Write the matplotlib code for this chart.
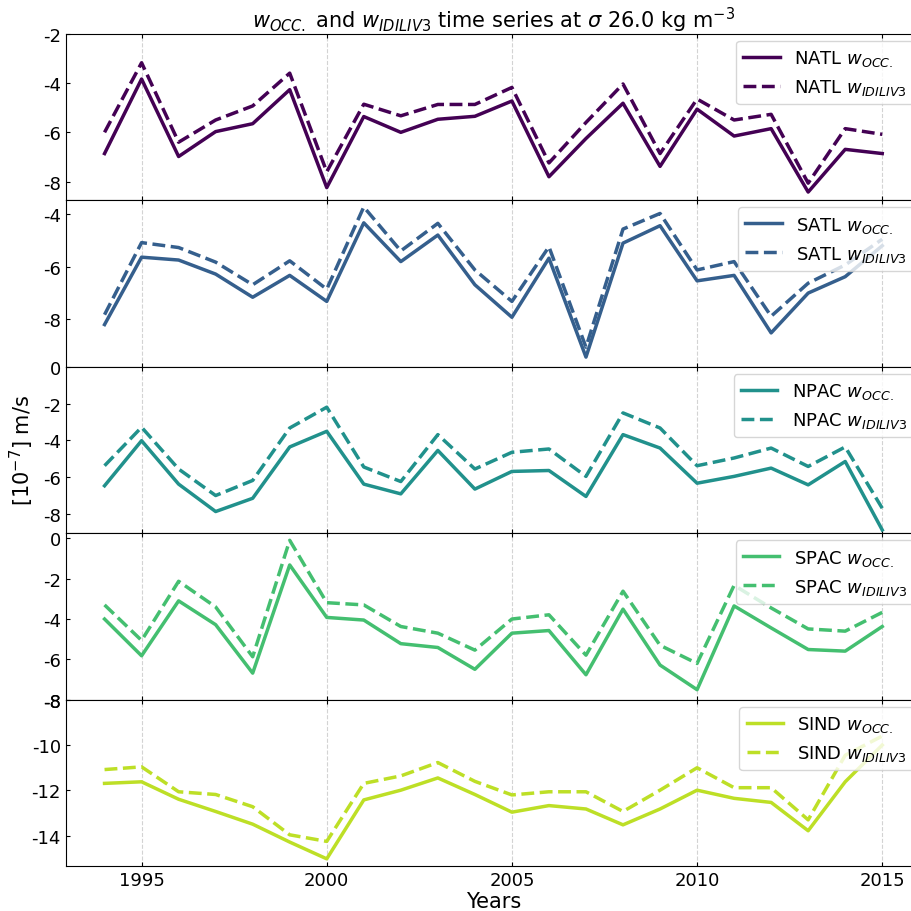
"""
w_OCC. vs w_IDILIV3 time series at sigma 26.0, five basins stacked.
"""

import matplotlib
matplotlib.use('Agg')

import matplotlib.pyplot as plt
import numpy as np

years = list(range(1994, 2016))

basins = ["NATL", "SATL", "NPAC", "SPAC", "SIND"]

natl_occ = [-6.86, -3.84, -6.98, -5.97, -5.65, -4.27, -8.24, -5.36, -6.0, -5.47, -5.35,
            -4.73, -7.8, -6.25, -4.82, -7.38, -5.06, -6.15, -5.85, -8.42, -6.69, -6.86]
natl_idl = [-6.0, -3.18, -6.4, -5.5, -4.93, -3.6, -7.6, -4.86, -5.33, -4.87, -4.87,
            -4.18, -7.24, -5.6, -4.04, -6.86, -4.65, -5.5, -5.27, -8.06, -5.85, -6.08]

satl_occ = [-8.23, -5.64, -5.75, -6.29, -7.18, -6.34, -7.34, -4.32, -5.81, -4.79, -6.7,
            -7.95, -5.68, -9.48, -5.1, -4.43, -6.55, -6.34, -8.55, -7.02, -6.39, -5.2]
satl_idl = [-7.85, -5.08, -5.27, -5.83, -6.7, -5.78, -6.87, -3.71, -5.4, -4.34, -6.13,
            -7.34, -5.24, -9.1, -4.56, -3.96, -6.13, -5.81, -7.91, -6.64, -5.94, -4.95]

npac_occ = [-6.47, -4.02, -6.38, -7.87, -7.15, -4.36, -3.51, -6.38, -6.91, -4.55, -6.65,
            -5.69, -5.64, -7.05, -3.69, -4.42, -6.33, -5.96, -5.51, -6.42, -5.15, -8.87]
npac_idl = [-5.38, -3.29, -5.56, -7.0, -6.18, -3.33, -2.2, -5.45, -6.24, -3.69, -5.56,
            -4.65, -4.47, -5.96, -2.51, -3.33, -5.38, -4.96, -4.42, -5.42, -4.36, -7.69]

spac_occ = [-4.0, -5.82, -3.1, -4.28, -6.68, -1.32, -3.92, -4.05, -5.22, -5.41, -6.49,
            -4.7, -4.57, -6.76, -3.51, -6.28, -7.5, -3.35, -4.44, -5.51, -5.59, -4.37]
spac_idl = [-3.3, -5.06, -2.13, -3.4, -5.87, -0.1, -3.19, -3.3, -4.37, -4.7, -5.54,
            -4.0, -3.79, -5.79, -2.62, -5.3, -6.2, -2.33, -3.45, -4.49, -4.6, -3.67]

sind_occ = [-11.69, -11.62, -12.39, -12.93, -13.49, -14.28, -15.02, -12.42, -11.99, -11.45, -12.18,
            -12.96, -12.67, -12.82, -13.52, -12.82, -11.99, -12.35, -12.53, -13.78, -11.62, -10.0]
sind_idl = [-11.08, -10.96, -12.06, -12.18, -12.72, -13.96, -14.25, -11.69, -11.36, -10.77, -11.6,
            -12.2, -12.06, -12.06, -12.93, -11.99, -11.0, -11.88, -11.88, -13.3, -10.45, -9.6]

occ = [natl_occ, satl_occ, npac_occ, spac_occ, sind_occ]
idl = [natl_idl, satl_idl, npac_idl, spac_idl, sind_idl]

yticks = [[-2, -4, -6, -8], [-4, -6, -8], [0, -2, -4, -6, -8],
          [0, -2, -4, -6, -8], [-8, -10, -12, -14]]
ylims = [(-8.75, -2), (-9.85, -3.45), (-9.05, 0), (-8.0, 0.25), (-15.35, -8)]

colors = plt.cm.viridis([0.0, 0.3, 0.5, 0.7, 0.9])

plt.rcParams.update({
    "font.size": 13,
    "axes.unicode_minus": False,
})

fig, axes = plt.subplots(5, 1, figsize=(9.12, 9.12), dpi=100, sharex=True)
fig.subplots_adjust(left=0.072, right=1.01, top=0.962, bottom=0.049, hspace=0)

for i, ax in enumerate(axes):
    ax.plot(years, occ[i], color=colors[i], lw=2.5, label=basins[i] + r" $w_{OCC.}$")
    ax.plot(years, idl[i], color=colors[i], lw=2.5, ls="--", label=basins[i] + r" $w_{IDILIV3}$")
    ax.set_yticks(yticks[i])
    ax.set_ylim(ylims[i])
    ax.grid(axis="x", ls="--", color="lightgray", lw=0.8)
    ax.tick_params(direction="in", top=True, labelsize=13, length=3)
    ax.legend(loc="upper right", fontsize=13, borderaxespad=0.4)

axes[-1].set_xlim(1992.95, 2016.05)
axes[-1].set_xticks([1995, 2000, 2005, 2010, 2015])
axes[-1].set_xlabel("Years", fontsize=15, labelpad=1)
axes[0].set_title(r"$w_{OCC.}$ and $w_{IDILIV3}$ time series at $\sigma$ 26.0 kg m$^{-3}$",
                  fontsize=15, pad=4)
fig.text(0.024, 0.506, r"[10$^{-7}$] m/s", rotation=90, va="center", ha="center", fontsize=15)

fig.savefig("out.png", dpi=100)
plt.close(fig)
